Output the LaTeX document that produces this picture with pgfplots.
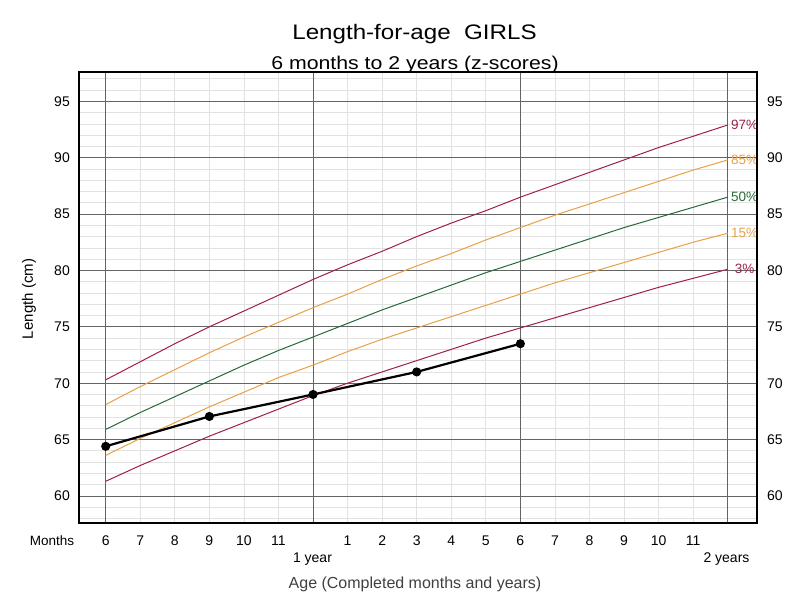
\documentclass[border=0pt]{standalone}
\usepackage{pgfplots}
\pgfplotsset{compat=1.18}
\usepackage{fontspec}
\setmainfont{Liberation Sans}
\newfontfamily\titlefont[FakeStretch=1.15]{Liberation Sans}
\definecolor{crim}{RGB}{160,30,75}
\definecolor{orng}{RGB}{232,160,70}
\definecolor{grn}{RGB}{40,105,55}
\definecolor{majg}{RGB}{100,100,100}
\definecolor{ming}{RGB}{226,226,226}
\pgfplotsset{base/.style={
  scale only axis, width=678pt, height=451pt,
  xmin=5.227, xmax=24.848, ymin=57.6, ymax=97.6,
  major tick length=0pt, minor tick length=0pt,
  /pgf/number format/assume math mode=true,
  ticklabel style={font=\fontsize{14}{16}\selectfont},
}}
\begin{document}
\begin{tikzpicture}
\path[use as bounding box] (-79pt,-76pt) rectangle (728pt,523pt);
% background: minor grid
\begin{axis}[base,
  axis line style={draw=none},
  xtick={7,8,9,10,11,13,14,15,16,17,19,20,21,22,23}, xticklabels={},
  ytick={58,59,61,62,63,64,66,67,68,69,71,72,73,74,76,77,78,79,81,82,83,84,86,87,88,89,91,92,93,94,96,97},
  yticklabels={},
  grid=major,
  major grid style={ming, line width=0.7pt},
]
\addplot[draw=none] coordinates {(6,60)};
\end{axis}
% main axis
\begin{axis}[base,
  axis line style={line width=1.2pt, black},
  xtick={6,12,18,24}, xticklabels={},
  extra x ticks={6,7,8,9,10,11,13,14,15,16,17,18,19,20,21,22,23},
  extra x tick labels={6,7,8,9,10,11,1,2,3,4,5,6,7,8,9,10,11},
  extra x tick style={grid=none, major tick length=0pt},
  ytick={60,65,...,95},
  grid=major,
  major grid style={majg, line width=0.8pt},
  xticklabel style={anchor=base, yshift=-22.7pt},
  yticklabel style={anchor=east, inner xsep=0pt, xshift=-9pt},
  clip=false,
]
\addplot[crim, line width=1pt] coordinates {(6,70.3)(7,71.9)(8,73.5)(9,75.0)(10,76.4)(11,77.8)(12,79.2)(13,80.5)(14,81.7)(15,83.0)(16,84.2)(17,85.3)(18,86.5)(19,87.6)(20,88.7)(21,89.8)(22,90.9)(23,91.9)(24,92.9)};
\addplot[orng, line width=1pt] coordinates {(6,68.1)(7,69.7)(8,71.2)(9,72.7)(10,74.1)(11,75.4)(12,76.7)(13,77.9)(14,79.2)(15,80.4)(16,81.5)(17,82.7)(18,83.8)(19,84.9)(20,85.9)(21,86.9)(22,87.9)(23,88.9)(24,89.8)};
\addplot[grn, line width=1pt] coordinates {(6,65.9)(7,67.4)(8,68.8)(9,70.2)(10,71.6)(11,72.9)(12,74.1)(13,75.3)(14,76.5)(15,77.6)(16,78.7)(17,79.8)(18,80.8)(19,81.8)(20,82.8)(21,83.8)(22,84.7)(23,85.6)(24,86.5)};
\addplot[orng, line width=1pt] coordinates {(6,63.6)(7,65.1)(8,66.5)(9,67.9)(10,69.2)(11,70.5)(12,71.6)(13,72.8)(14,73.9)(15,74.9)(16,75.9)(17,76.9)(18,77.9)(19,78.9)(20,79.8)(21,80.7)(22,81.6)(23,82.5)(24,83.3)};
\addplot[crim, line width=1pt] coordinates {(6,61.3)(7,62.7)(8,64.0)(9,65.3)(10,66.5)(11,67.7)(12,68.9)(13,70.0)(14,71.0)(15,72.0)(16,73.0)(17,74.0)(18,74.9)(19,75.8)(20,76.7)(21,77.6)(22,78.5)(23,79.3)(24,80.1)};
\addplot[black, line width=2.2pt, mark=*, mark size=3.4pt] coordinates {(6,64.4)(9,67.05)(12,69.0)(15,71.0)(18,73.5)};
\node[crim, font=\fontsize{13.5}{15}\selectfont] at (axis cs:24.49,92.9) {97\%};
\node[orng, font=\fontsize{13.5}{15}\selectfont] at (axis cs:24.49,89.8) {85\%};
\node[grn, font=\fontsize{13.5}{15}\selectfont] at (axis cs:24.49,86.5) {50\%};
\node[orng, font=\fontsize{13.5}{15}\selectfont] at (axis cs:24.49,83.3) {15\%};
\node[crim, font=\fontsize{13.5}{15}\selectfont] at (axis cs:24.49,80.1) {3\%};
\end{axis}
% right labels
\begin{axis}[base,
  hide x axis,
  axis y line*=right,
  y axis line style={line width=1.2pt, black, -},
  ytick={60,65,...,95},
  yticklabel style={anchor=west, inner xsep=0pt, xshift=10pt},
]
\addplot[draw=none] coordinates {(6,60)};
\end{axis}
\node[anchor=base] at (335.5pt,483pt) {\titlefont\fontsize{21}{24}\selectfont Length-for-age\ \ GIRLS};
\node[anchor=base] at (336pt,453pt) {\titlefont\fontsize{18.5}{22}\selectfont 6 months to 2 years (z-scores)};
\node[anchor=base, font=\fontsize{13.5}{15}\selectfont] at (-27pt,-22.7pt) {Months};
\node[anchor=base, font=\fontsize{14}{16}\selectfont] at (233.5pt,-40pt) {1 year};
\node[anchor=base, font=\fontsize{14}{16}\selectfont] at (647.5pt,-40pt) {2 years};
\node[anchor=base, font=\fontsize{16}{18}\selectfont, text=black!75] at (336pt,-66pt) {Age (Completed months and years)};
\node[anchor=base, rotate=90, font=\fontsize{15}{17}\selectfont] at (-46pt,224pt) {Length (cm)};
\end{tikzpicture}
\end{document}
